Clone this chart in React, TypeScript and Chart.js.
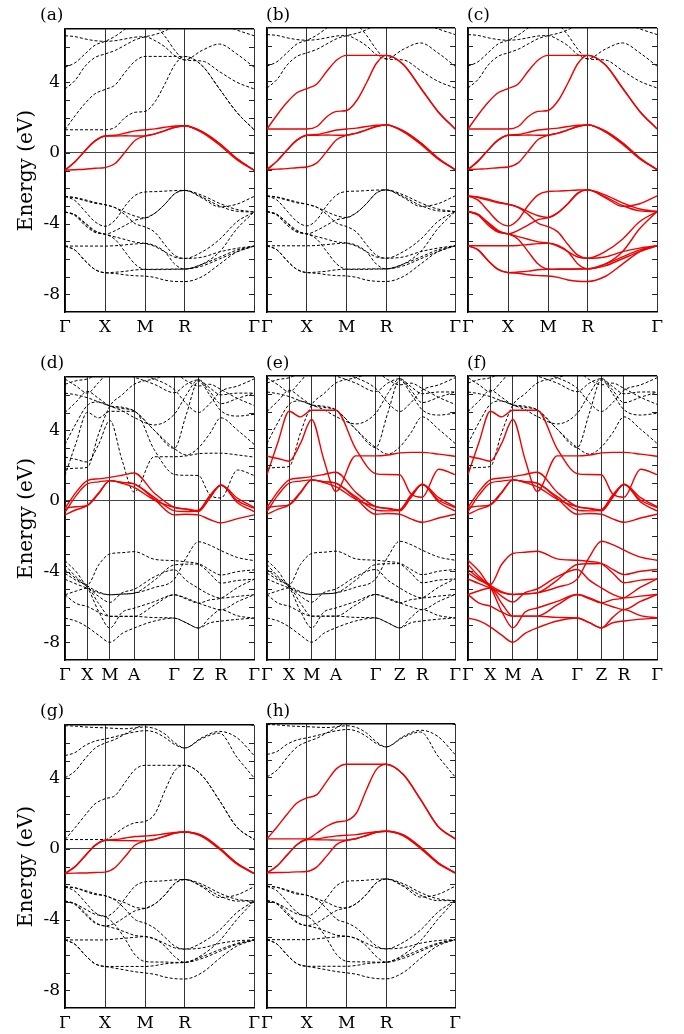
import React, { useEffect, useRef } from 'react';
import { Chart, registerables } from 'chart.js';
Chart.register(...registerables);

// ---------- k-paths and tick labels ----------
const K_CUBIC = [0, 10.1, 20.1, 30.2, 40.3, 50.4, 60.4, 70.5, 80.5, 90.5, 100.4, 110.4, 120.3, 137.7, 155.2, 172.6, 190];
const TICKS_CUBIC = [0, 40.3, 80.5, 120.3, 190];
const LABELS_CUBIC = ['Γ', 'X', 'M', 'R', 'Γ'];
const K_TET = [0, 11.2, 22.3, 33.7, 45, 57.2, 69.3, 89.4, 109.5, 121.6, 133.7, 145, 156.3, 172.9, 189.5];
const TICKS_TET = [0, 22.3, 45, 69.3, 109.5, 133.7, 156.3, 189.5];
const LABELS_TET = ['Γ', 'X', 'M', 'A', 'Γ', 'Z', 'R', 'Γ'];
const Y_LABELS = [4, 0, -4, -8];

// ---------- structure A (panels a, b, c) ----------
const A_T2G_1 = [-0.98, -0.5, 0.12, 0.68, 0.96, 1.0, 1.12, 1.25, 1.31, 1.36, 1.45, 1.52, 1.54, 1.2, 0.53, -0.32, -0.98];
const A_T2G_2 = [-0.98, -0.5, 0.12, 0.68, 0.96, 0.96, 0.97, 0.96, 0.96, 1.08, 1.26, 1.45, 1.54, 1.2, 0.53, -0.32, -0.98];
const A_T2G_3 = [-0.98, -0.95, -0.92, -0.87, -0.83, -0.6, 0.05, 0.72, 0.96, 1.08, 1.26, 1.45, 1.54, 1.15, 0.45, -0.38, -0.98];
const A_EG_1 = [1.31, 1.31, 1.31, 1.31, 1.31, 1.45, 2.0, 2.3, 2.35, 2.9, 3.9, 5.0, 5.46, 4.94, 3.62, 2.3, 1.31];
const A_EG_2 = [1.31, 2.1, 2.8, 3.35, 3.59, 3.85, 4.56, 5.2, 5.46, 5.46, 5.46, 5.46, 5.46, 4.94, 3.62, 2.3, 1.31];
const A_V1 = [-2.46, -2.52, -2.65, -2.8, -2.93, -3.1, -3.35, -3.58, -3.68, -3.4, -2.9, -2.3, -2.12, -2.55, -3.05, -2.9, -2.46];
const A_V2 = [-2.46, -2.7, -3.3, -3.9, -4.15, -3.8, -3.0, -2.4, -2.21, -2.19, -2.16, -2.13, -2.12, -2.4, -2.85, -3.2, -3.34];
const A_V3 = [-2.46, -2.55, -2.7, -2.85, -2.93, -3.1, -3.5, -4.0, -4.19, -4.5, -5.2, -5.8, -5.97, -5.6, -4.9, -3.9, -3.34];
const A_V4 = [-3.34, -3.5, -3.95, -4.4, -4.6, -4.4, -4.1, -3.8, -3.68, -3.4, -2.9, -2.3, -2.12, -2.5, -3.0, -3.3, -3.34];
const A_V5 = [-3.34, -3.5, -4.0, -4.45, -4.6, -4.75, -4.9, -5.05, -5.12, -5.3, -5.6, -5.9, -5.97, -5.9, -5.6, -5.4, -5.27];
const A_V6 = [-3.34, -3.55, -4.1, -4.5, -4.6, -4.9, -5.6, -6.3, -6.59, -6.6, -6.6, -6.58, -6.57, -6.3, -5.6, -4.3, -3.34];
const A_V7 = [-5.27, -5.27, -5.27, -5.27, -5.27, -5.25, -5.2, -5.15, -5.12, -5.25, -5.6, -6.3, -6.57, -6.4, -6.0, -5.6, -5.27];
const A_V8 = [-5.27, -5.5, -6.1, -6.6, -6.78, -6.75, -6.7, -6.62, -6.59, -6.58, -6.57, -6.57, -6.57, -6.3, -5.9, -5.5, -5.27];
const A_V9 = [-5.27, -5.5, -6.1, -6.6, -6.78, -6.82, -6.9, -6.95, -6.97, -7.05, -7.2, -7.27, -7.28, -7.0, -6.3, -5.6, -5.27];
const A_HI_1 = [6.63, 6.58, 6.45, 6.35, 6.31, 6.35, 6.45, 6.55, 6.57, 6.35, 6.0, 5.5, 5.26, 5.8, 6.16, 5.6, 4.85];
const A_HI_2 = [4.85, 5.1, 5.6, 6.1, 6.31, 6.6, 7.0, 7.4, 7.5, 7.2, 6.6, 5.8, 5.26, 5.2, 4.6, 4.0, 3.62];
const A_HI_3 = [3.62, 4.1, 4.9, 5.4, 5.6, 5.8, 6.1, 6.4, 6.57, 6.7, 6.9, 7.2, 7.4, 7.5, 7.3, 6.95, 6.63];

// ---------- structure B (panels g, h) ----------
const B_T2G_1 = [-1.39, -1.0, -0.4, 0.2, 0.49, 0.53, 0.62, 0.7, 0.73, 0.77, 0.86, 0.93, 0.96, 0.75, 0.05, -0.8, -1.39];
const B_T2G_2 = [-1.39, -1.0, -0.4, 0.2, 0.49, 0.48, 0.47, 0.46, 0.45, 0.55, 0.72, 0.9, 0.96, 0.75, 0.05, -0.8, -1.39];
const B_T2G_3 = [-1.39, -1.37, -1.36, -1.33, -1.31, -1.05, -0.43, 0.22, 0.45, 0.55, 0.72, 0.9, 0.96, 0.7, -0.02, -0.85, -1.39];
const B_EG_1 = [0.53, 0.53, 0.53, 0.53, 0.53, 0.86, 1.24, 1.48, 1.56, 2.0, 3.3, 4.43, 4.73, 4.15, 2.74, 1.24, 0.53];
const B_EG_2 = [0.53, 1.2, 1.9, 2.55, 2.84, 3.02, 3.77, 4.5, 4.73, 4.73, 4.73, 4.73, 4.73, 4.15, 2.74, 1.24, 0.53];
const B_V1 = [-2.14, -2.2, -2.35, -2.52, -2.65, -2.85, -3.05, -3.3, -3.36, -3.1, -2.6, -1.95, -1.73, -2.15, -2.75, -2.6, -2.14];
const B_V2 = [-2.14, -2.4, -3.0, -3.6, -3.83, -3.5, -2.8, -2.1, -1.86, -1.83, -1.8, -1.75, -1.73, -2.0, -2.5, -2.85, -2.95];
const B_V3 = [-2.14, -2.2, -2.4, -2.58, -2.65, -2.9, -3.4, -4.0, -4.2, -4.5, -5.0, -5.5, -5.67, -5.3, -4.6, -3.6, -2.95];
const B_V4 = [-2.95, -3.1, -3.6, -4.15, -4.36, -4.2, -3.85, -3.5, -3.36, -3.1, -2.6, -1.95, -1.73, -2.1, -2.65, -2.95, -2.95];
const B_V5 = [-2.95, -3.15, -3.7, -4.2, -4.36, -4.5, -4.7, -4.9, -4.96, -5.1, -5.35, -5.6, -5.67, -5.6, -5.35, -5.2, -5.15];
const B_V6 = [-2.95, -3.1, -3.4, -3.7, -3.83, -4.3, -5.1, -6.0, -6.37, -6.4, -6.4, -6.42, -6.42, -6.0, -5.2, -4.0, -2.95];
const B_V7 = [-5.15, -5.15, -5.15, -5.15, -5.15, -5.1, -5.05, -5.0, -4.96, -5.1, -5.5, -6.1, -6.42, -6.2, -5.8, -5.4, -5.15];
const B_V8 = [-5.15, -5.4, -6.0, -6.5, -6.65, -6.65, -6.65, -6.65, -6.65, -6.6, -6.5, -6.45, -6.42, -6.1, -5.7, -5.35, -5.15];
const B_V9 = [-5.15, -5.4, -6.0, -6.5, -6.65, -6.75, -6.85, -6.95, -7.02, -7.1, -7.25, -7.34, -7.36, -7.0, -6.2, -5.5, -5.15];
const B_HI_1 = [6.97, 6.95, 6.9, 6.87, 6.85, 6.82, 6.8, 6.85, 6.9, 6.8, 6.5, 6.0, 5.71, 6.3, 6.65, 6.3, 5.28];
const B_HI_2 = [5.28, 5.45, 5.85, 6.1, 6.22, 6.35, 6.5, 6.62, 6.69, 6.6, 6.3, 5.9, 5.71, 6.25, 6.55, 5.2, 4.02];
const B_HI_3 = [4.02, 4.4, 5.1, 5.7, 5.99, 6.2, 6.5, 6.8, 7.1, 7.2, 7.3, 7.35, 7.4, 7.4, 7.3, 7.2, 6.97];

// ---------- structure C (panels d, e, f) ----------
const C_T1 = [-0.41, 0.5, 1.15, 1.25, 1.33, 1.45, 1.58, 0.45, -0.36, -0.45, -0.54, 0.2, 0.9, 0.15, -0.36];
const C_T2 = [-0.64, 0.3, 0.96, 1.08, 1.15, 1.05, 0.96, 0.1, -0.79, -0.75, -0.79, -1.05, -1.24, -1.0, -0.79];
const C_T3 = [-0.79, -0.5, -0.26, 0.45, 1.15, 1.0, 0.77, 0.05, -0.36, -0.48, -0.6, 0.15, 0.9, -0.1, -0.6];
const C_T4 = [-0.41, -0.33, -0.26, 0.4, 1.15, 1.05, 0.96, 0.2, -0.55, -0.6, -0.54, 0.3, 0.88, 0.0, -0.41];
const C_U1 = [1.44, 3.3, 5.01, 4.7, 5.07, 5.07, 5.07, 2.9, 1.5, 1.45, 1.44, 0.35, 0.17, 1.75, 1.44];
const C_U2 = [2.48, 2.35, 2.2, 3.2, 4.55, 2.3, 0.5, 2.5, 2.5, 2.55, 2.67, 2.7, 2.7, 2.6, 2.48];
const C_Q1 = [-3.38, -4.0, -4.75, -3.62, -3.0, -2.93, -2.87, -3.3, -3.38, -3.45, -3.57, -4.1, -4.65, -4.5, -4.43];
const C_Q2 = [-3.62, -4.3, -4.8, -5.15, -5.31, -5.27, -5.22, -4.5, -3.62, -3.58, -3.57, -3.9, -4.19, -4.0, -3.9];
const C_Q3 = [-3.9, -4.4, -4.85, -5.4, -5.74, -5.2, -5.0, -4.3, -3.9, -4.5, -4.94, -5.3, -5.5, -5.4, -5.31];
const C_Q4 = [-4.1, -4.5, -4.9, -6.25, -7.19, -6.3, -6.07, -5.7, -5.31, -5.5, -5.78, -6.0, -6.16, -5.7, -5.31];
const C_Q5 = [-4.43, -4.7, -4.94, -5.2, -5.31, -5.27, -5.22, -4.9, -4.43, -3.2, -2.31, -2.5, -2.81, -3.2, -3.38];
const C_Q6 = [-5.31, -5.1, -4.94, -5.8, -6.53, -6.53, -6.53, -5.9, -5.31, -5.55, -5.78, -5.6, -5.5, -4.9, -4.43];
const C_Q7 = [-5.31, -5.8, -5.97, -6.3, -6.53, -6.53, -6.53, -6.6, -6.63, -6.9, -7.19, -6.9, -6.8, -6.7, -6.63];
const C_Q8 = [-6.63, -6.8, -7.13, -7.6, -8.0, -7.5, -7.19, -6.8, -6.63, -6.9, -7.19, -6.6, -6.16, -6.5, -6.63];
const C_W1 = [6.9, 6.5, 6.1, 6.7, 7.3, 7.2, 7.0, 6.6, 6.12, 6.6, 6.85, 6.4, 6.0, 6.1, 6.1];
const C_W2 = [6.1, 6.0, 5.84, 5.6, 5.37, 5.1, 4.72, 4.3, 4.9, 6.0, 6.85, 6.2, 5.5, 5.8, 6.1];
const C_W3 = [5.0, 5.6, 6.2, 5.8, 5.37, 5.23, 5.09, 4.0, 2.97, 4.9, 6.78, 6.0, 5.1, 4.8, 4.9];
const C_W4 = [3.2, 4.4, 5.4, 5.6, 5.37, 5.3, 5.09, 4.0, 2.97, 2.6, 3.0, 3.8, 4.7, 4.0, 3.2];
const C_W5 = [1.8, 1.85, 1.9, 3.8, 5.37, 6.0, 6.6, 6.9, 7.2, 6.8, 6.5, 6.6, 6.3, 5.8, 5.4];
const C_W6 = [6.6, 6.8, 6.9, 7.2, 7.5, 7.4, 7.2, 6.9, 6.3, 5.5, 5.0, 5.5, 6.2, 6.5, 6.9];

const A_T2G = [A_T2G_1, A_T2G_2, A_T2G_3];
const A_EG = [A_EG_1, A_EG_2];
const A_O2P = [A_V1, A_V2, A_V3, A_V4, A_V5, A_V6, A_V7, A_V8, A_V9];
const A_HI = [A_HI_1, A_HI_2, A_HI_3];
const B_T2G = [B_T2G_1, B_T2G_2, B_T2G_3];
const B_EG = [B_EG_1, B_EG_2];
const B_O2P = [B_V1, B_V2, B_V3, B_V4, B_V5, B_V6, B_V7, B_V8, B_V9];
const B_HI = [B_HI_1, B_HI_2, B_HI_3];
const C_T = [C_T1, C_T2, C_T3, C_T4];
const C_U = [C_U1, C_U2];
const C_Q = [C_Q1, C_Q2, C_Q3, C_Q4, C_Q5, C_Q6, C_Q7, C_Q8];
const C_W = [C_W1, C_W2, C_W3, C_W4, C_W5, C_W6];

const COLS = [{ left: 65, w: 190 }, { left: 267, w: 189 }, { left: 468, w: 190 }];
const ROWS = [28, 376, 724];
const PLOT_H = 284;
const FONT = 'DejaVu Serif';

type PanelDef = {
  tag: string; row: number; col: number; k: number[]; ticks: number[]; labels: string[];
  red: number[][]; black: number[][];
};

const PANELS: PanelDef[] = [
  { tag: '(a)', row: 0, col: 0, k: K_CUBIC, ticks: TICKS_CUBIC, labels: LABELS_CUBIC, red: A_T2G, black: [...A_EG, ...A_O2P, ...A_HI] },
  { tag: '(b)', row: 0, col: 1, k: K_CUBIC, ticks: TICKS_CUBIC, labels: LABELS_CUBIC, red: [...A_T2G, ...A_EG], black: [...A_O2P, ...A_HI] },
  { tag: '(c)', row: 0, col: 2, k: K_CUBIC, ticks: TICKS_CUBIC, labels: LABELS_CUBIC, red: [...A_T2G, ...A_EG, ...A_O2P], black: A_HI },
  { tag: '(d)', row: 1, col: 0, k: K_TET, ticks: TICKS_TET, labels: LABELS_TET, red: C_T, black: [...C_U, ...C_Q, ...C_W] },
  { tag: '(e)', row: 1, col: 1, k: K_TET, ticks: TICKS_TET, labels: LABELS_TET, red: [...C_T, ...C_U], black: [...C_Q, ...C_W] },
  { tag: '(f)', row: 1, col: 2, k: K_TET, ticks: TICKS_TET, labels: LABELS_TET, red: [...C_T, ...C_U, ...C_Q], black: C_W },
  { tag: '(g)', row: 2, col: 0, k: K_CUBIC, ticks: TICKS_CUBIC, labels: LABELS_CUBIC, red: B_T2G, black: [...B_EG, ...B_O2P, ...B_HI] },
  { tag: '(h)', row: 2, col: 1, k: K_CUBIC, ticks: TICKS_CUBIC, labels: LABELS_CUBIC, red: [...B_T2G, ...B_EG], black: [...B_O2P, ...B_HI] },
];

const PAD_TOP = 14;
const PAD_RIGHT = 10;
const AXIS_H = 28;

const inwardTicks = {
  id: 'inwardTicks',
  afterDraw(chart: any) {
    const { ctx, chartArea: a, scales } = chart;
    const y = scales.y;
    ctx.save();
    ctx.strokeStyle = '#222';
    ctx.lineWidth = 1;
    ctx.beginPath();
    for (let v = -8; v <= 6; v++) {
      const py = Math.round(y.getPixelForValue(v)) + 0.5;
      ctx.moveTo(a.left, py);
      ctx.lineTo(a.left + 5, py);
      ctx.moveTo(a.right, py);
      ctx.lineTo(a.right - 5, py);
    }
    ctx.stroke();
    ctx.restore();
  },
};

function Panel({ p }: { p: PanelDef }) {
  const ref = useRef<HTMLCanvasElement | null>(null);
  const isLeft = p.col === 0;
  const axisW = isLeft ? COLS[0].left : 12;
  const col = COLS[p.col];
  const width = axisW + col.w + PAD_RIGHT;
  const height = PAD_TOP + PLOT_H + AXIS_H;
  const left = col.left - axisW;
  const top = ROWS[p.row] - PAD_TOP;

  useEffect(() => {
    if (!ref.current) return;
    const mk = (band: number[]) => p.k.map((x, i) => ({ x, y: band[i] }));
    const datasets: any[] = [
      ...p.red.map((b) => ({
        data: mk(b), borderColor: '#f00000', borderWidth: 1.4, pointRadius: 0,
        cubicInterpolationMode: 'monotone', fill: false,
      })),
      ...p.black.map((b) => ({
        data: mk(b), borderColor: '#000', borderWidth: 1, borderDash: [3, 2], pointRadius: 0,
        cubicInterpolationMode: 'monotone', fill: false,
      })),
    ];
    const xmax = p.k[p.k.length - 1];
    const chart = new Chart(ref.current, {
      type: 'line',
      data: { datasets },
      plugins: [inwardTicks],
      options: {
        responsive: false,
        animation: false,
        devicePixelRatio: 1,
        events: [],
        layout: { padding: { top: PAD_TOP, right: PAD_RIGHT, left: 0, bottom: 0 } },
        plugins: { legend: { display: false }, tooltip: { enabled: false } },
        scales: {
          x: {
            type: 'linear', min: 0, max: xmax,
            afterBuildTicks: (s: any) => { s.ticks = p.ticks.map((v) => ({ value: v })); },
            afterFit: (s: any) => { s.height = AXIS_H; },
            ticks: {
              callback: (_v: any, i: number) => p.labels[i],
              autoSkip: false, maxRotation: 0, minRotation: 0, padding: 5, color: '#000',
              font: { family: FONT, size: 17 },
            },
            grid: { color: '#333', lineWidth: 1, drawTicks: false },
            border: { color: '#000', width: 1.5 },
          },
          y: {
            type: 'linear', min: -9, max: 7,
            afterFit: (s: any) => { s.width = axisW; },
            ticks: {
              stepSize: 1, display: isLeft, autoSkip: false, padding: 5, color: '#000',
              font: { family: FONT, size: 17 },
              callback: (v: any) => (Y_LABELS.includes(Number(v)) ? String(v) : ''),
            },
            title: {
              display: isLeft, text: 'Energy (eV)', color: '#000',
              font: { family: FONT, size: 20 }, padding: { top: 15, bottom: 0 },
            },
            grid: {
              drawTicks: false,
              color: (c: any) => (c.tick && c.tick.value === 0 ? '#444' : c.tick && c.tick.value === 7 ? '#000' : 'rgba(0,0,0,0)'),
              lineWidth: (c: any) => (c.tick && c.tick.value === 7 ? 1.5 : 1),
            },
            border: { color: '#000', width: 1.5 },
          },
        },
      } as any,
    });
    return () => chart.destroy();
  }, []);

  return (
    <>
      <canvas
        ref={ref}
        width={width}
        height={height}
        style={{ position: 'absolute', left, top, width, height }}
      />
      <div
        style={{
          position: 'absolute', left: col.left - (isLeft ? 25 : 1), top: ROWS[p.row] - 22,
          fontFamily: FONT, fontSize: 17, lineHeight: '17px', color: '#000',
        }}
      >
        {p.tag}
      </div>
    </>
  );
}

export default function App() {
  return (
    <div style={{ position: 'absolute', left: 0, top: 0, width: 684, height: 1034, background: '#fff' }}>
      {PANELS.map((p) => (
        <Panel key={p.tag} p={p} />
      ))}
    </div>
  );
}
